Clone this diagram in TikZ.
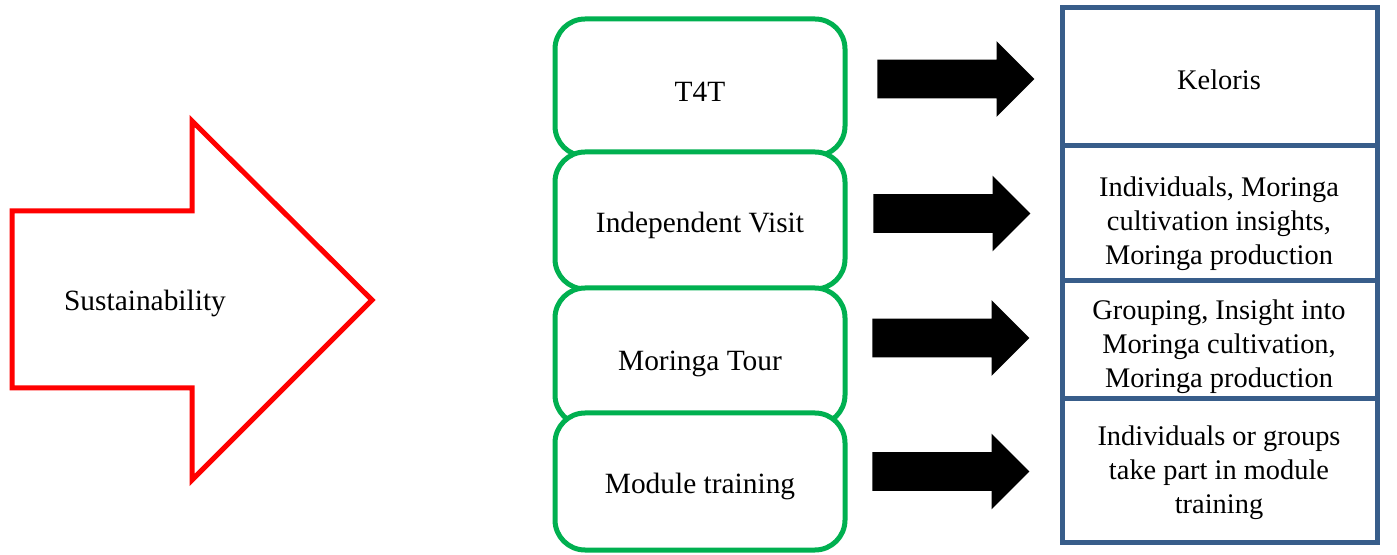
\documentclass[tikz,border=0pt]{standalone}
\usepackage{fontspec}
\setmainfont{Liberation Serif}
\usetikzlibrary{shapes.arrows}
\definecolor{stagegreen}{RGB}{0,176,80}
\definecolor{resultblue}{RGB}{56,93,138}
\definecolor{pushred}{RGB}{255,0,0}
\begin{document}
\begin{tikzpicture}[x=0.5pt,y=-0.5pt,
  stagebox/.style={draw=stagegreen, line width=2.5pt, fill=white,
    rounded corners=15pt, minimum width=145pt, minimum height=68.5pt,
    inner sep=0pt},
  bigtext/.style={font=\fontsize{14.7}{17}\selectfont, inner sep=0pt,
    anchor=base},
  resultbox/.style={draw=resultblue, line width=2.5pt, rectangle,
    minimum width=157.5pt, inner sep=0pt},
  resulttext/.style={font=\fontsize{14.2}{17}\selectfont, inner sep=0pt,
    align=center},
  fatarrow/.style={single arrow, fill=black, draw=none,
    minimum height=78.5pt, single arrow head extend=9.25pt,
    inner sep=9.5pt, anchor=tail}]
\useasboundingbox (0,0) rectangle (1397,555);

% big outlined arrow on the left
\draw[pushred, line width=2.5pt, line join=miter]
  (12,211) -- (192,211) -- (192,121) -- (372,300) -- (192,480)
  -- (192,388) -- (12,388) -- cycle;
\node[bigtext] (sust) at (145,311) {Sustainability};

% overlapping stages (later ones cover the lower edge of earlier ones)
\node[stagebox] (t4t)    at (700,87.5)  {};
\node[bigtext]  (t4t-l)  at (700,102)   {T4T};
\node[stagebox] (visit)  at (700,220.5) {};
\node[bigtext]  (visit-l) at (700,233)  {Independent Visit};
\node[stagebox] (tour)   at (700,356.5) {};
\node[bigtext]  (tour-l) at (700,371)   {Moringa Tour};
\node[stagebox] (module) at (700,481.5) {};
\node[bigtext]  (module-l) at (700,493) {Module training};

% outcomes
\node[resultbox, minimum height=69pt]   (keloris) at (1219.5,77)    {};
\node[resulttext, anchor=base] (keloris-l) at (1219,90) {Keloris};
\node[resultbox, minimum height=67.5pt] (indiv)   at (1219.5,213.5) {};
\node[resulttext] (indiv-l) at (1219,223.5)
  {Individuals, Moringa\\cultivation insights,\\Moringa production};
\node[resultbox, minimum height=59pt]   (group)   at (1219.5,340)   {};
\node[resulttext] (group-l) at (1219,346.5)
  {Grouping, Insight into\\Moringa cultivation,\\Moringa production};
\node[resultbox, minimum height=71.5pt] (train)   at (1219.5,470.5) {};
\node[resulttext] (train-l) at (1219,472.5)
  {Individuals or groups\\take part in module\\training};

% block arrows between stages and outcomes
\node[fatarrow] (a1) at (877,79)    {};
\node[fatarrow] (a2) at (873,213.5) {};
\node[fatarrow] (a3) at (872,338)   {};
\node[fatarrow] (a4) at (872,471.5) {};
\end{tikzpicture}
\end{document}
